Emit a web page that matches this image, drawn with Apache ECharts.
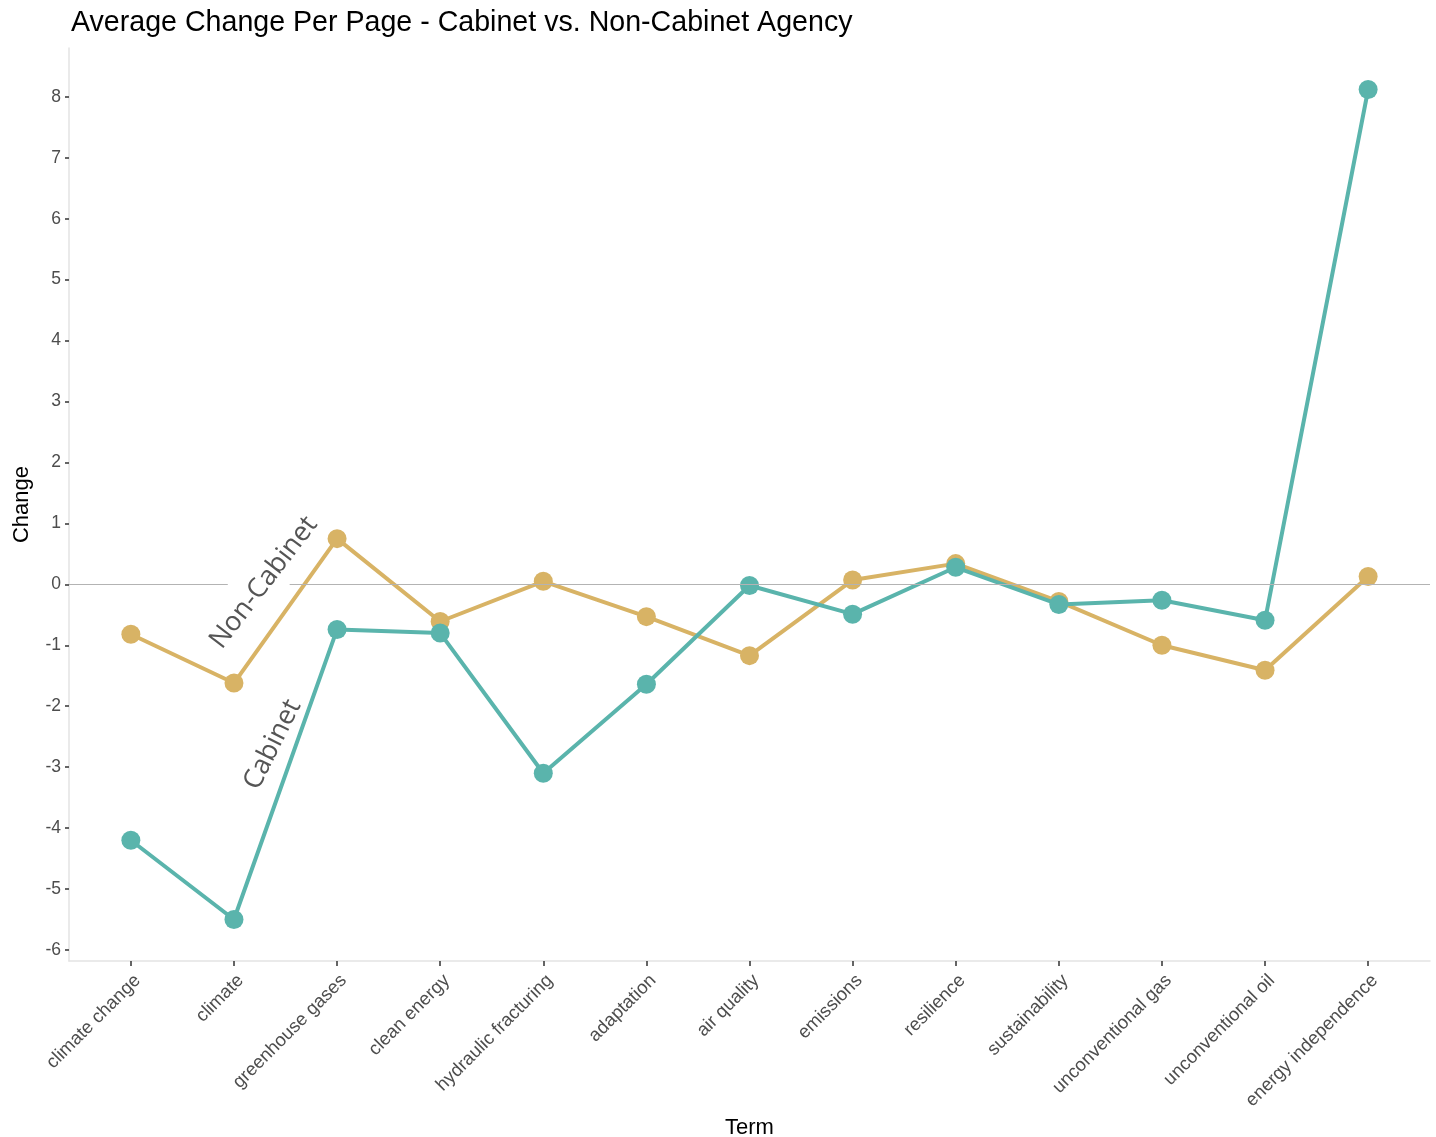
<!DOCTYPE html>
<html><head><meta charset="utf-8">
<script src="https://cdn.jsdelivr.net/npm/echarts@6/dist/echarts.min.js"></script>
<style>html,body{margin:0;padding:0;background:#fff}#c{width:1436px;height:1137px}</style>
</head><body><div id="c"></div>
<script>
const categories = ["climate change","climate","greenhouse gases","clean energy","hydraulic fracturing","adaptation","air quality","emissions","resilience","sustainability","unconventional gas","unconventional oil","energy independence"];
const cabinet = [-4.20,-5.50,-0.74,-0.80,-3.10,-1.64,-0.02,-0.49,0.28,-0.33,-0.26,-0.59,8.12];
const nonCabinet = [-0.82,-1.62,0.75,-0.61,0.05,-0.53,-1.17,0.07,0.34,-0.28,-1.00,-1.41,0.13];
const yTicks = [-6,-5,-4,-3,-2,-1,0,1,2,3,4,5,6,7,8];
const xTicks = categories.map((c,i)=>i);
const teal = '#5ab4ac', gold = '#d8b365';

const chart = echarts.init(document.getElementById('c'));
const font = '"Liberation Sans", Arial, sans-serif';
chart.setOption({
  animation:false,
  backgroundColor:'#fff',
  title:{text:'Average Change Per Page - Cabinet vs. Non-Cabinet Agency',left:66,top:4,
    textStyle:{fontFamily:font,fontSize:28.6,fontWeight:'normal',color:'#000'}},
  grid:{left:69,right:6,top:48,bottom:176,containLabel:false,outerBoundsMode:'none'},
  xAxis:{type:'value',min:-0.6,max:12.6,name:'Term',nameLocation:'middle',nameGap:156,
    nameTextStyle:{fontFamily:font,fontSize:22,color:'#000'},
    axisLine:{show:true,onZero:false,lineStyle:{color:'#e3e3e3',width:1.5}},
    axisTick:{show:true,customValues:xTicks,length:5,lineStyle:{color:'#333',width:1.5}},
    axisLabel:{customValues:xTicks,rotate:45,margin:10,align:'right',verticalAlign:'top',
      fontFamily:font,fontSize:18.5,color:'#4d4d4d',formatter:v=>categories[v]},
    splitLine:{show:false}},
  yAxis:{type:'value',min:-6.181,max:8.801,name:'Change',nameLocation:'middle',nameGap:36,nameRotate:90,
    nameTextStyle:{fontFamily:font,fontSize:22,color:'#000'},
    axisLine:{show:true,onZero:false,lineStyle:{color:'#e3e3e3',width:1.5}},
    axisTick:{show:true,customValues:yTicks,length:4,lineStyle:{color:'#333',width:1.5}},
    axisLabel:{customValues:yTicks,margin:8,fontFamily:font,fontSize:17.5,color:'#4d4d4d'},
    splitLine:{show:false}},
  series:[
    {type:'line',data:[],z:1,silent:true,
      markLine:{silent:true,symbol:'none',label:{show:false},
        lineStyle:{color:'#b3b3b3',width:1.2,type:'solid'},
        data:[[{coord:[-0.6,0]},{coord:[0.94,0]}],[{coord:[1.54,0]},{coord:[12.6,0]}]]}},
    {name:'Non-Cabinet',type:'line',z:3,data:nonCabinet.map((v,i)=>[i,v]),
      symbol:'circle',symbolSize:19,lineStyle:{color:gold,width:4},itemStyle:{color:gold}},
    {name:'Cabinet',type:'line',z:4,data:cabinet.map((v,i)=>[i,v]),
      symbol:'circle',symbolSize:19,lineStyle:{color:teal,width:4},itemStyle:{color:teal}}
  ]
});
const p1 = chart.convertToPixel({gridIndex:0},[1.29,0.03]);
const p2 = chart.convertToPixel({gridIndex:0},[1.375,-2.63]);
const lab = '"Open Sans", "Noto Sans", sans-serif';
chart.setOption({graphic:[
  {type:'text',x:p1[0],y:p1[1],rotation:52.5*Math.PI/180,z:10,
    style:{text:'Non-Cabinet',fontFamily:lab,fontSize:27,fill:'#555',align:'center',verticalAlign:'middle'}},
  {type:'text',x:p2[0],y:p2[1],rotation:63.5*Math.PI/180,z:10,
    style:{text:'Cabinet',fontFamily:lab,fontSize:27,fill:'#555',align:'center',verticalAlign:'middle'}}
]});
</script></body></html>
